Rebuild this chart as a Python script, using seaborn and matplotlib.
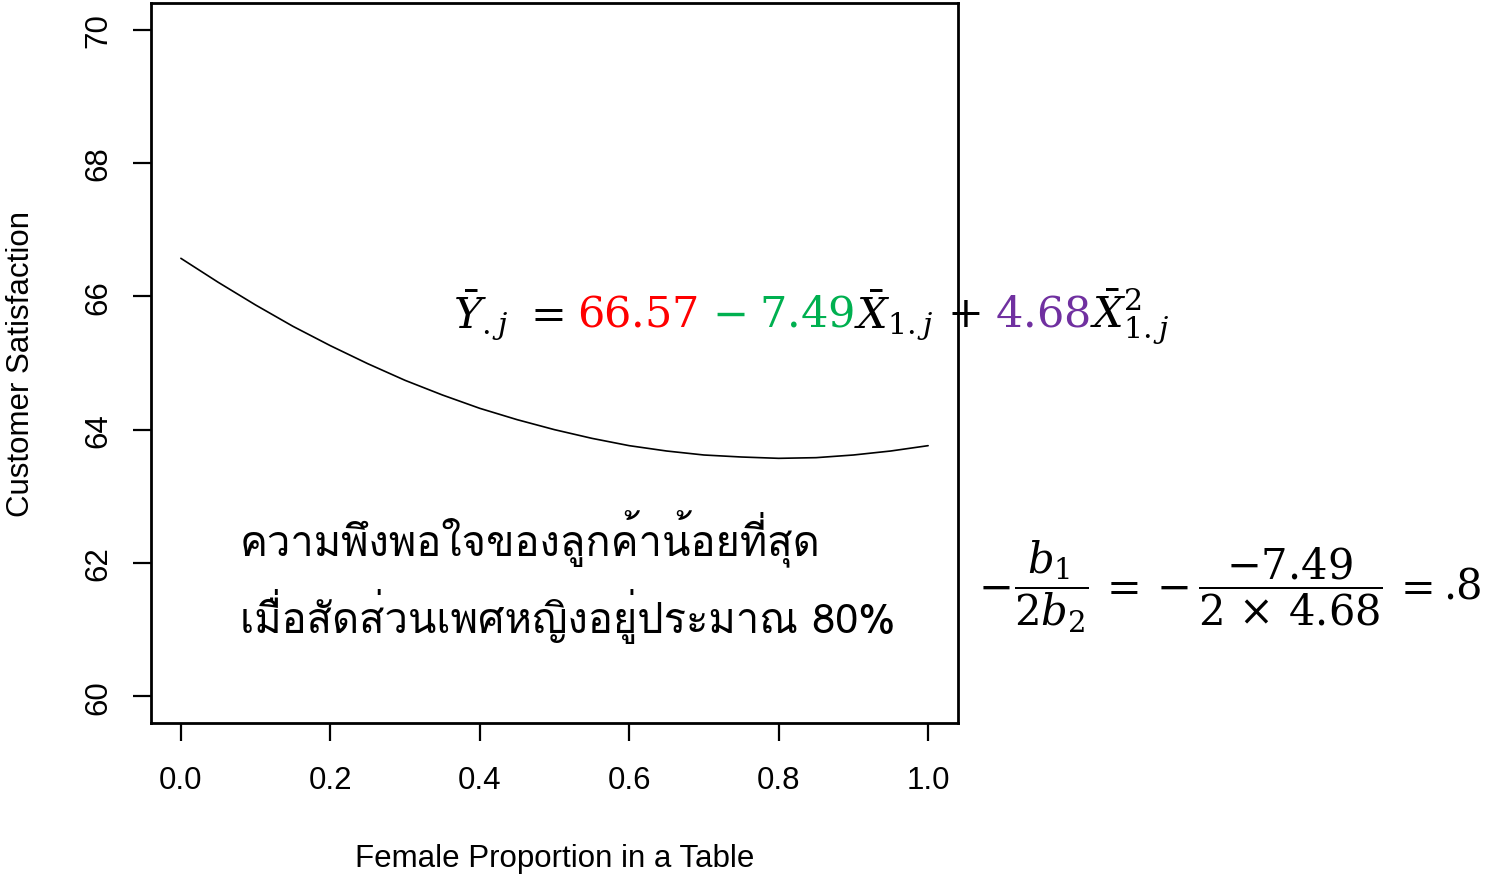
import matplotlib
matplotlib.use("Agg")
import matplotlib.pyplot as plt
import matplotlib.font_manager as fm
from matplotlib.ft2font import FT2Font
import seaborn as sns
import pandas as pd

# values
female_prop = [0.00, 0.05, 0.10, 0.15, 0.20, 0.25, 0.30, 0.35, 0.40, 0.45, 0.50,
               0.55, 0.60, 0.65, 0.70, 0.75, 0.80, 0.85, 0.90, 0.95, 1.00]
satisfaction = [66.57, 66.21, 65.87, 65.55, 65.26, 64.99, 64.74, 64.52, 64.32, 64.15, 64.00,
                63.87, 63.76, 63.68, 63.62, 63.59, 63.57, 63.58, 63.62, 63.68, 63.76]
x_ticks = [0.0, 0.2, 0.4, 0.6, 0.8, 1.0]
x_tick_labels = ["0.0", "0.2", "0.4", "0.6", "0.8", "1.0"]
y_ticks = [60, 62, 64, 66, 68, 70]

thai_line1 = "ความพึงพอใจของลูกค้าน้อยที่สุด"
thai_line2 = "เมื่อสัดส่วนเพศหญิงอยู่ประมาณ 80%"

# coloured pieces of the fitted equation
eq_pieces = [
    (r"$\bar{Y}_{.j}$", "black"),
    (r"$=$", "black"),
    (r"$66.57$", "#FF0000"),
    (r"$-$", "#00B050"),
    (r"$7.49$", "#00B050"),
    (r"$\bar{X}_{1.j}$", "black"),
    (r"$+$", "black"),
    (r"$4.68$", "#7030A0"),
    (r"$\bar{X}^{2}_{1.j}$", "black"),
]
# pieces of the vertex formula
vertex_pieces = [
    r"$-$",
    r"$\dfrac{b_1}{2b_2}$",
    r"$=$",
    r"$-$",
    r"$\dfrac{-7.49}{2\,\times\,4.68}$",
    r"$=$",
    ".8",
]
operators = ["$=$", "$-$", "$+$"]

df = pd.DataFrame({"x": female_prop, "y": satisfaction})

sns.set_theme(style="white")

# look for an installed font that has Thai glyphs
thai_font = None
for f in fm.fontManager.ttflist:
    try:
        if 0x0E04 in FT2Font(f.fname).get_charmap():
            thai_font = f.name
            break
    except Exception:
        pass

plt.rcParams["font.family"] = ["Liberation Sans", "DejaVu Sans"]
plt.rcParams["mathtext.fontset"] = "dejavuserif"
plt.rcParams["text.color"] = "black"
plt.rcParams["axes.labelcolor"] = "black"
thai_fams = ([thai_font] if thai_font else []) + ["DejaVu Sans"]

W, H = 1486, 879
fig = plt.figure(figsize=(W / 100, H / 100), dpi=100)
ax = fig.add_axes([151 / W, 1 - 724 / H, 807 / W, 720 / H])

sns.lineplot(data=df, x="x", y="y", color="black", linewidth=1.2, ax=ax)

ax.set_xlim(-0.04, 1.04)
ax.set_ylim(59.6, 70.4)
ax.set_xticks(x_ticks)
ax.set_xticklabels(x_tick_labels)
ax.set_yticks(y_ticks)
ax.set_yticklabels([str(v) for v in y_ticks], rotation=90, va="center")
for s in ax.spines.values():
    s.set_color("black")
    s.set_linewidth(2)
ax.tick_params(axis="both", direction="out", length=13, width=1.6, color="black",
               labelsize=22.5, labelcolor="black", bottom=True, left=True)
ax.tick_params(axis="x", pad=17)
ax.tick_params(axis="y", pad=14)

ax.set_xlabel("Female Proportion in a Table", fontsize=22.5, color="black", va="center")
ax.xaxis.set_label_coords(0.5, (724 - 859) / 720)
ax.set_ylabel("Customer Satisfaction", fontsize=22.5, color="black", va="center")
ax.yaxis.set_label_coords((21 - 151) / 807, 0.5)

# Thai annotation
fig.text(240 / W, 1 - 556 / H, thai_line1, fontsize=30, family=thai_fams,
         color="black", va="baseline")
fig.text(240 / W, 1 - 633 / H, thai_line2, fontsize=30, family=thai_fams,
         color="black", va="baseline")

r = fig.canvas.get_renderer()


def put_pieces(x, y, pieces, pad, gap, size):
    # writes text pieces one after the other on a shared baseline
    for i, (s, c) in enumerate(pieces):
        p = pad if (s in operators and i > 0) else 0
        if i > 0:
            x += gap
        x += p
        t = fig.text(x / W, 1 - y / H, s, color=c, fontsize=size, family="DejaVu Serif",
                     va="baseline", ha="left")
        x += t.get_window_extent(r).width + p


# fitted equation, each part in its own colour
put_pieces(453, 327, eq_pieces, 14, 0, 31)
# vertex of the parabola
put_pieces(978, 600, [(s, "black") for s in vertex_pieces], 6, 4, 30)

fig.savefig("out.png", dpi=100)
